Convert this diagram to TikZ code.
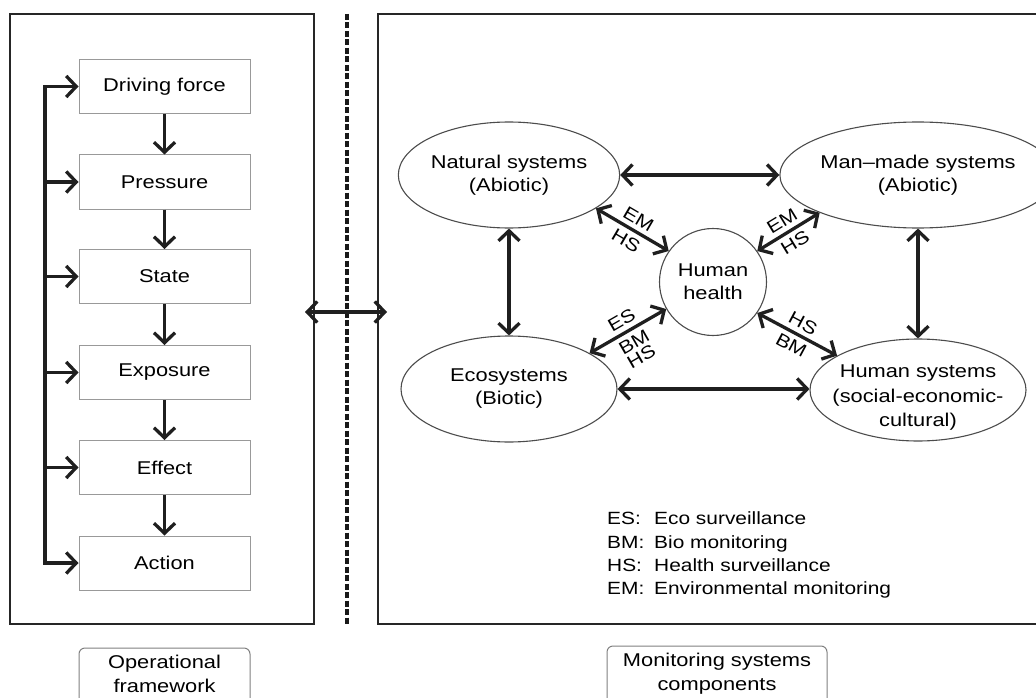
\documentclass[tikz,border=0pt]{standalone}
\usepackage{fontspec}
\setmainfont{Liberation Sans}[FakeStretch=1.18]
\usetikzlibrary{arrows.meta,shapes.geometric,fit}
\begin{document}
\begin{tikzpicture}[x=1pt,y=-1pt,
  font=\fontsize{18.5}{23}\selectfont,
  frame/.style={line width=2.4pt, draw=black!85},
  stepbox/.style={draw=black!40, line width=1pt, minimum width=171pt, minimum height=54pt, inner sep=0pt},
  arr/.style={line width=3.3pt, draw=black!88, line join=miter, -{Straight Barb[length=10pt,width=21pt]}},
  darr/.style={line width=3.3pt, draw=black!88, {Straight Barb[length=10pt,width=21pt]}-{Straight Barb[length=10pt,width=21pt]}},
  sys/.style={ellipse, draw=black!70, line width=1.1pt, minimum width=216pt, minimum height=106pt, inner sep=0pt, align=center},
  lab/.style={font=\fontsize{18}{16.5}\selectfont, sloped, inner sep=4.5pt, align=left},
  legend/.style={anchor=base west, inner sep=0pt, font=\fontsize{17.7}{21}\selectfont},
  capbox/.style={draw=black!50, line width=1pt, rounded corners=6pt, inner sep=0pt},
  captext/.style={align=center, anchor=north, inner sep=0pt, font=\fontsize{18.5}{24}\selectfont}
]
\useasboundingbox (0,0) rectangle (1036,698);
\clip (0,0) rectangle (1036,698);

% frames
\draw[frame] (10,14) rectangle (314,624);
\draw[frame] (378,14) rectangle (1050,624);
\coordinate (dtop) at (347,14);
\coordinate (dbot) at (347,624);
\draw[line width=4.5pt, draw=black!90, dash pattern=on 6pt off 2.5pt] (dtop) -- (dbot);

% operational chain
\node[stepbox] (df) at (164.5,86.5) {Driving force};
\node[stepbox] (pr) at (164.5,182) {Pressure};
\node[stepbox] (st) at (164.5,276.5) {State};
\node[stepbox] (ex) at (164.5,372.5) {Exposure};
\node[stepbox] (ef) at (164.5,467.5) {Effect};
\node[stepbox] (ac) at (164.5,563) {Action};
\foreach \a/\b in {df/pr,pr/st,st/ex,ex/ef,ef/ac}
  \draw[arr] (\a.south) -- (\b.north);
\coordinate (bustop) at (45,86.5);
\coordinate (busbot) at (45,563);
\draw[arr] (busbot) -- (bustop) -- (df.west);
\draw[arr] (bustop) -- (busbot) -- (ac.west);
\foreach \b in {pr,st,ex,ef}
  \draw[arr] (bustop |- \b.west) -- (\b.west);

% link between panels
\coordinate (xl) at (305,312);
\coordinate (xr) at (387,312);
\draw[darr] (xl) -- (xr);

% monitoring systems
\node[sys] (ns) at (509,175) {Natural systems\\(Abiotic)};
\node[sys] (mm) at (918,175) {Man–made systems\\(Abiotic)};
\node[sys] (eco) at (509,389) {Ecosystems\\(Biotic)};
\node[sys, minimum height=102pt] (hsy) at (918,390) {};
\node[align=center, inner sep=0pt, font=\fontsize{18.5}{24.5}\selectfont] (hsyt) at (918,398) {Human systems\\(social-economic-\\cultural)};
\node[circle, draw=black!70, line width=1.1pt, minimum size=107pt, inner sep=0pt, align=center] (hh) at (713,282) {Human\\health};

\draw[darr] (ns.east) -- (mm.west);
\draw[darr] (eco.east) -- (eco.east -| hsy.west);
\draw[darr] (ns.south) -- (eco.north);
\draw[darr] (mm.south) -- (hsy.north);
\draw[darr] (ns.-21) -- node[lab, above]{EM} node[lab, below]{HS} (hh.145);
\draw[darr] (mm.-159) -- node[lab, above]{EM} node[lab, below]{HS} (hh.35);
\draw[darr] (eco.24) -- node[lab, above]{ES} node[lab, below]{BM\\HS} (hh.-150);
\draw[darr] (hh.-35) -- node[lab, above]{HS} node[lab, below]{BM} (hsy.157);

% legend
\node[legend] (l1) at (607,524.5) {\makebox[47pt][l]{ES:}Eco surveillance};
\node[legend] (l2) at (607,548) {\makebox[47pt][l]{BM:}Bio monitoring};
\node[legend] (l3) at (607,571.5) {\makebox[47pt][l]{HS:}Health surveillance};
\node[legend] (l4) at (607,594.5) {\makebox[47pt][l]{EM:}Environmental monitoring};

% captions
\node[capbox, fit={(79,648) (250,740)}] (opbox) {};
\node[captext] (optext) at (164.5,655) {Operational\\framework};
\node[capbox, fit={(607,646) (827,740)}] (monbox) {};
\node[captext] (montext) at (717,653) {Monitoring systems\\components};
\end{tikzpicture}
\end{document}
